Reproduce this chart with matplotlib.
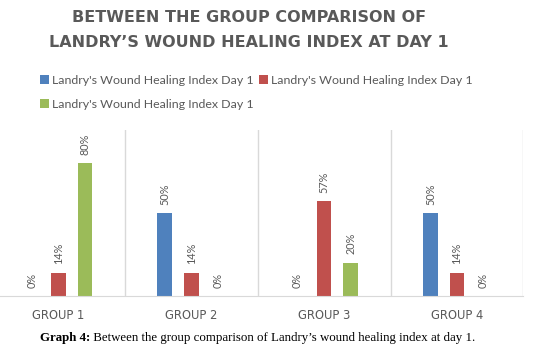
import matplotlib.pyplot as plt
import numpy as np

# data
groups = ["GROUP 1", "GROUP 2", "GROUP 3", "GROUP 4"]
series_names = ["Landry's Wound Healing Index Day 1",
                "Landry's Wound Healing Index Day 1",
                "Landry's Wound Healing Index Day 1"]
blue_vals = [0, 50, 0, 50]
red_vals = [14, 14, 57, 14]
green_vals = [80, 0, 20, 0]
colors = ["#4F81BD", "#C0504D", "#9BBB59"]

title_lines = ["BETWEEN THE GROUP COMPARISON OF",
               "LANDRY\u2019S WOUND HEALING INDEX AT DAY 1"]
caption_bold = "Graph 4:"
caption_rest = " Between the group comparison of Landry\u2019s wound healing index at day 1."

gray = "#595959"
grid_col = "#d9d9d9"

fig = plt.figure(figsize=(5.4, 3.54), dpi=100)
ax = fig.add_axes([-0.0148, 0.1638, 0.984, 0.469])

x = np.arange(len(groups))
width = 0.11
offsets = [-0.2, 0.0, 0.2]
handles = []
for vals, off, col, name in zip([blue_vals, red_vals, green_vals], offsets, colors, series_names):
    bars = ax.bar(x + off, vals, width=width, color=col, label=name)
    handles.append(bars)
    for xi, v in zip(x + off, vals):
        ax.annotate(f"{v}%", (xi, v), xytext=(0, 6), textcoords="offset points",
                    rotation=90, ha="center", va="bottom", fontsize=7.8,
                    color=gray, family="Lato")

ax.set_xlim(-0.5, 3.5)
ax.set_ylim(0, 100)
for b in [0.5, 1.5, 2.5, 3.5]:
    ax.axvline(b, color=grid_col, lw=1, zorder=0)
for s in ["left", "top", "right"]:
    ax.spines[s].set_visible(False)
ax.spines["bottom"].set_color(grid_col)
ax.set_yticks([])
ax.set_xticks(x)
ax.set_xticklabels(groups, fontsize=8.3, color=gray, family="DejaVu Sans")
ax.tick_params(axis="x", length=0, pad=9)

for i, line in enumerate(title_lines):
    fig.text(0.461, 0.950 - i * 0.0706, line, ha="center", va="center",
             fontsize=11.5, fontweight="bold", color=gray, family="DejaVu Sans")

# legend: reorder so rows read blue, red / green
leg = fig.legend([handles[0], handles[2], handles[1]],
                 [series_names[0], series_names[2], series_names[1]],
                 ncol=2, loc="upper left", bbox_to_anchor=(0.062, 0.805),
                 frameon=False, borderpad=0, handlelength=0.75, handleheight=0.75,
                 handletextpad=0.25, columnspacing=0.4, labelspacing=1.0,
                 prop={"family": "Lato", "size": 8.9})
for t in leg.get_texts():
    t.set_color(gray)

# caption with bold prefix
fig.canvas.draw()
r = fig.canvas.get_renderer()
t1 = fig.text(0.074, 0.046, caption_bold, ha="left", va="center", fontsize=9.3,
              fontweight="bold", family="Liberation Serif", color="black")
bb = t1.get_window_extent(renderer=r)
x2 = bb.x1 / fig.bbox.width
fig.text(x2, 0.046, caption_rest, ha="left", va="center", fontsize=9.3,
         family="Liberation Serif", color="black")

fig.savefig("out.png", dpi=100)
